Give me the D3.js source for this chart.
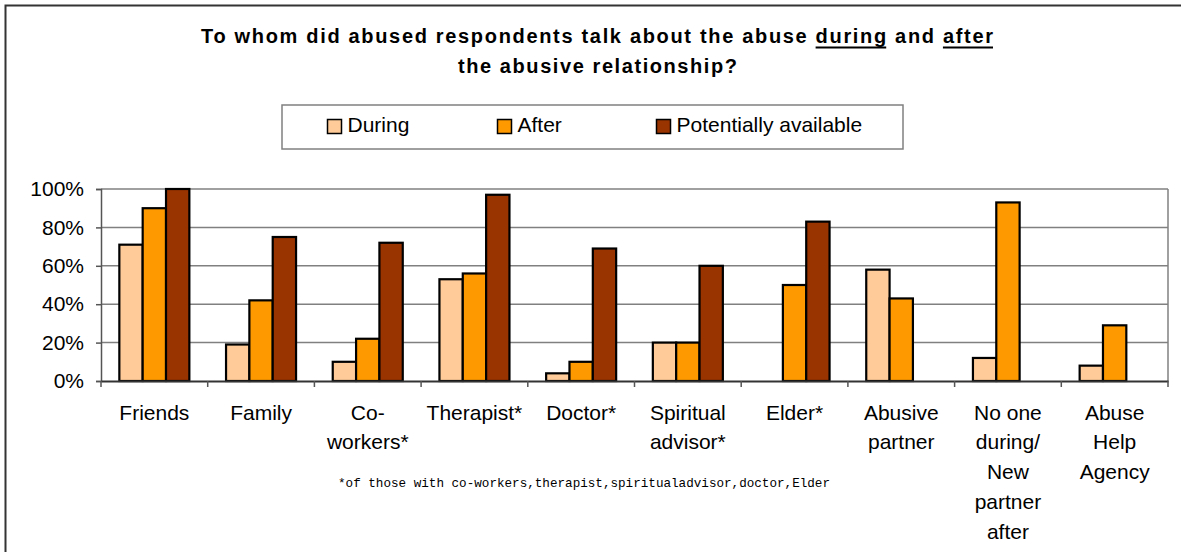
<!DOCTYPE html>
<html>
<head>
<meta charset="utf-8">
<script src="https://cdn.jsdelivr.net/npm/d3@7"></script>
<style>
  html, body { margin: 0; padding: 0; background: #fff; }
  svg { display: block; }
  text { font-family: "Liberation Sans", Arial, sans-serif; fill: #000; }
</style>
</head>
<body>
<svg id="chart" width="1181" height="552"></svg>
<script>
// Who respondents talked to, share of respondents (%)
const categories = [
  "Friends", "Family", "Co-workers*", "Therapist*", "Doctor*",
  "Spiritual advisor*", "Elder*", "Abusive partner",
  "No one during/New partner after", "Abuse Help Agency"
];
// Wrapped label lines for the category axis
const categoryLines = [
  ["Friends"], ["Family"], ["Co-", "workers*"], ["Therapist*"], ["Doctor*"],
  ["Spiritual", "advisor*"], ["Elder*"], ["Abusive", "partner"],
  ["No one", "during/", "New", "partner", "after"], ["Abuse", "Help", "Agency"]
];
const seriesNames = ["During", "After", "Potentially available"];
const during    = [71, 19, 10, 53, 4, 20, null, 58, 12, 8];
const after     = [90, 42, 22, 56, 10, 20, 50, 43, 93, 29];
const potential = [100, 75, 72, 97, 69, 60, 83, null, null, null];
const seriesColors = ["#FFCC99", "#FF9900", "#993300"];
const yTicks = [0, 20, 40, 60, 80, 100];

const titleLine1 = "To whom did abused respondents talk about the abuse during and after";
const titleLine2 = "the abusive relationship?";
const underlined = ["during", "after"];
const footnote = "*of those with co-workers,therapist,spiritualadvisor,doctor,Elder";

const seriesValues = [during, after, potential];

const svg = d3.select("#chart");

// Outer frame
svg.append("rect")
  .attr("x", 5.5).attr("y", 5.5)
  .attr("width", 1190).attr("height", 570)
  .attr("fill", "none").attr("stroke", "#333").attr("stroke-width", 2);

// Plot area
const plot = { left: 101, right: 1168, top: 189, bottom: 381 };

const x0 = d3.scaleBand().domain(categories)
  .range([plot.left, plot.right]).padding(0);
const x1 = d3.scaleBand().domain(seriesNames)
  .range([0, x0.bandwidth()]).paddingInner(0).paddingOuter(0.786);
const y = d3.scaleLinear().domain([0, 100]).range([plot.bottom, plot.top]);

// Gridlines
svg.append("g")
  .selectAll("line")
  .data(yTicks.filter(d => d > 0))
  .join("line")
  .attr("x1", plot.left).attr("x2", plot.right)
  .attr("y1", d => y(d)).attr("y2", d => y(d))
  .attr("stroke", "#808080").attr("stroke-width", 1.5);

// Right edge of plot area
svg.append("line")
  .attr("x1", plot.right).attr("x2", plot.right)
  .attr("y1", plot.top).attr("y2", plot.bottom)
  .attr("stroke", "#808080").attr("stroke-width", 1.5);

// Bars
const barData = [];
categories.forEach((c, i) => {
  seriesNames.forEach((s, j) => {
    const v = seriesValues[j][i];
    if (v !== null && v !== undefined) barData.push({ c, s, v, j });
  });
});

svg.append("g")
  .selectAll("rect")
  .data(barData)
  .join("rect")
  .attr("x", d => x0(d.c) + x1(d.s))
  .attr("width", x1.bandwidth())
  .attr("y", d => y(d.v))
  .attr("height", d => y(0) - y(d.v))
  .attr("fill", d => seriesColors[d.j])
  .attr("stroke", "#000").attr("stroke-width", 2.2);

// Y axis
const yAxis = d3.axisLeft(y)
  .tickValues(yTicks)
  .tickFormat(d => d + "%")
  .tickSize(5)
  .tickPadding(12);
const gy = svg.append("g")
  .attr("transform", `translate(${plot.left},0)`)
  .call(yAxis);
gy.select(".domain").attr("stroke", "#555").attr("stroke-width", 1.5);
gy.selectAll(".tick line").attr("stroke", "#555").attr("stroke-width", 1.5);
gy.selectAll(".tick text")
  .style("font-family", '"Liberation Sans", Arial, sans-serif')
  .style("font-size", "21px").attr("fill", "#000");

// X axis (category boundaries as ticks)
const gx = svg.append("g")
  .attr("transform", `translate(0,${plot.bottom})`)
  .call(d3.axisBottom(x0).tickSize(0).tickFormat(""));
gx.select(".domain").attr("stroke", "#333").attr("stroke-width", 2);
const boundaries = categories.map(c => x0(c)).concat([plot.right]);
gx.selectAll(".boundary")
  .data(boundaries)
  .join("line")
  .attr("class", "boundary")
  .attr("x1", d => d).attr("x2", d => d)
  .attr("y1", 0).attr("y2", 6)
  .attr("stroke", "#555").attr("stroke-width", 1.5);

// Category labels
const lineHeight = 29.75;
const labels = svg.append("g");
categories.forEach((c, i) => {
  const cx = x0(c) + x0.bandwidth() / 2;
  const t = labels.append("text")
    .attr("text-anchor", "middle")
    .style("font-size", "21px");
  categoryLines[i].forEach((ln, k) => {
    t.append("tspan").attr("x", cx).attr("y", 419.5 + k * lineHeight).text(ln);
  });
});

// Footnote
svg.append("text")
  .attr("x", 338).attr("y", 487)
  .style("font-family", '"Liberation Mono", "DejaVu Sans Mono", monospace')
  .style("font-size", "12.6px")
  .attr("textLength", 492).attr("lengthAdjust", "spacingAndGlyphs")
  .text(footnote);

// Title
const t1 = svg.append("text")
  .attr("x", 201).attr("y", 42.5)
  .style("font-size", "20px").style("font-weight", "bold")
  .attr("textLength", 792).attr("lengthAdjust", "spacing")
  .text(titleLine1);
svg.append("text")
  .attr("x", 458).attr("y", 73)
  .style("font-size", "20px").style("font-weight", "bold")
  .attr("textLength", 279).attr("lengthAdjust", "spacing")
  .text(titleLine2);

// Underline the emphasised words of the title
const node = t1.node();
underlined.forEach(word => {
  const idx = titleLine1.lastIndexOf(" " + word) + 1;
  const start = node.getStartPositionOfChar(idx).x;
  const end = node.getEndPositionOfChar(idx + word.length - 1).x;
  svg.append("line")
    .attr("x1", start).attr("x2", end)
    .attr("y1", 47.5).attr("y2", 47.5)
    .attr("stroke", "#000").attr("stroke-width", 2);
});

// Legend
const legend = svg.append("g");
legend.append("rect")
  .attr("x", 282).attr("y", 105)
  .attr("width", 621).attr("height", 44)
  .attr("fill", "#fff").attr("stroke", "#808080").attr("stroke-width", 1.5);
const legendX = [327.5, 497.5, 656.5];
seriesNames.forEach((s, j) => {
  legend.append("rect")
    .attr("x", legendX[j]).attr("y", 119.5)
    .attr("width", 14).attr("height", 14)
    .attr("fill", seriesColors[j])
    .attr("stroke", "#000").attr("stroke-width", 1.5);
  legend.append("text")
    .attr("x", legendX[j] + 20).attr("y", 132)
    .style("font-size", "21px")
    .text(s);
});
</script>
</body>
</html>
